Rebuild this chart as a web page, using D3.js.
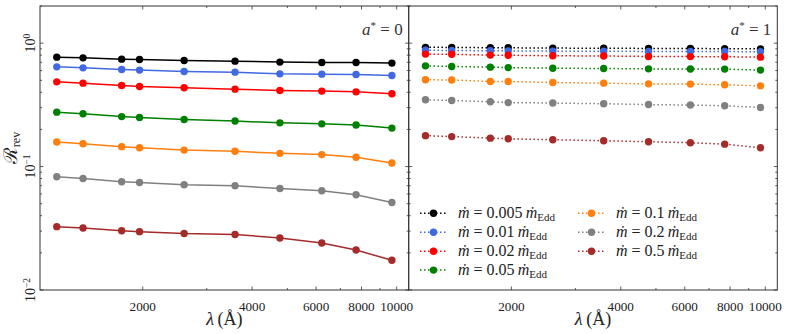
<!DOCTYPE html>
<html><head><meta charset="utf-8">
<script src="https://cdn.jsdelivr.net/npm/d3@7"></script>
<style>
html,body{margin:0;padding:0;background:#fff;}
svg{display:block;}
</style></head>
<body><svg id="c" width="789" height="334"></svg>
<script>
// ---------- data ----------
const lambdas = [1160, 1370, 1750, 1960, 2600, 3590, 4770, 6220, 7730, 9700];
const mdotLabels = ["0.005", "0.01", "0.02", "0.05", "0.1", "0.2", "0.5"];
const colors = ["#000000", "#4169e1", "#ff0000", "#008000", "#ff7f0e", "#808080", "#a52a2a"];

// a* = 0 (solid lines)
const a0_m0005 = [0.770, 0.760, 0.742, 0.737, 0.723, 0.715, 0.702, 0.697, 0.697, 0.689];
const a0_m001  = [0.643, 0.631, 0.611, 0.605, 0.589, 0.582, 0.564, 0.561, 0.557, 0.547];
const a0_m002  = [0.486, 0.474, 0.454, 0.445, 0.435, 0.424, 0.413, 0.409, 0.403, 0.389];
const a0_m005  = [0.276, 0.268, 0.254, 0.250, 0.241, 0.234, 0.226, 0.222, 0.217, 0.205];
const a0_m01   = [0.158, 0.153, 0.145, 0.142, 0.136, 0.133, 0.128, 0.125, 0.119, 0.107];
const a0_m02   = [0.0827, 0.0801, 0.0753, 0.0743, 0.0712, 0.0699, 0.0665, 0.0637, 0.0591, 0.0512];
const a0_m05   = [0.0326, 0.0318, 0.0302, 0.0297, 0.0287, 0.0282, 0.0264, 0.0240, 0.0211, 0.0174];

// a* = 1 (dotted lines)
const a1_m0005 = [0.925, 0.924, 0.918, 0.917, 0.912, 0.910, 0.906, 0.904, 0.902, 0.899];
const a1_m001  = [0.875, 0.873, 0.867, 0.866, 0.862, 0.860, 0.857, 0.856, 0.855, 0.852];
const a1_m002  = [0.815, 0.812, 0.800, 0.798, 0.790, 0.787, 0.780, 0.778, 0.776, 0.770];
const a1_m005  = [0.655, 0.647, 0.639, 0.634, 0.627, 0.623, 0.619, 0.617, 0.616, 0.605];
const a1_m01   = [0.505, 0.503, 0.489, 0.489, 0.480, 0.474, 0.468, 0.466, 0.460, 0.451];
const a1_m02   = [0.348, 0.343, 0.335, 0.330, 0.327, 0.323, 0.318, 0.315, 0.311, 0.301];
const a1_m05   = [0.178, 0.175, 0.170, 0.168, 0.165, 0.162, 0.159, 0.156, 0.152, 0.142];

const xMajorTicks = [2000, 4000, 6000, 8000, 10000];
const xMinorTicks = [3000, 5000, 7000, 9000];
const yMajorTicks = [0.01, 0.1, 1];
const yMajorExp = ["\u22122", "\u22121", "0"];

const panelsData = [
  {label: "0", dash: null, series: [a0_m0005, a0_m001, a0_m002, a0_m005, a0_m01, a0_m02, a0_m05]},
  {label: "1", dash: "1.5,2.5", series: [a1_m0005, a1_m001, a1_m002, a1_m005, a1_m01, a1_m02, a1_m05]}
];

// ---------- layout ----------
const FONT = "'Liberation Serif'";
const svg = d3.select("#c");
const yTop = 6, yBot = 290;
const panelX = [[40, 408.7], [408.7, 777.3]];
const y = d3.scaleLog().domain([0.01, 2.0]).range([yBot, yTop]);
const axisCol = "#333";
const yMinorTicks = [];
[0.01, 0.1, 1].forEach(d => { for (let k = 2; k <= 9; k++) { const v = d * k; if (v <= 2.0) yMinorTicks.push(v); } });

function txt(sel) { return sel.append("text").style("font-family", FONT).attr("fill", "#222"); }

panelsData.forEach((p, pi) => {
  const [x0, x1] = panelX[pi];
  const x = d3.scaleLog().domain([1043, 10790]).range([x0, x1]);
  const g = svg.append("g");

  // data
  const line = d3.line().x((d, i) => x(lambdas[i])).y(d => y(d));
  p.series.forEach((vals, si) => {
    const sg = g.append("g");
    sg.append("path").attr("d", line(vals)).attr("fill", "none")
      .attr("stroke", colors[si]).attr("stroke-width", 1.5)
      .attr("stroke-dasharray", p.dash);
    sg.selectAll("circle").data(vals).join("circle")
      .attr("cx", (d, i) => x(lambdas[i])).attr("cy", d => y(d)).attr("r", 3.7)
      .attr("fill", colors[si]);
  });

  // ticks (inward, all sides)
  const tk = g.append("g").attr("stroke", axisCol).attr("stroke-width", 0.8);
  xMajorTicks.forEach(t => {
    tk.append("line").attr("x1", x(t)).attr("x2", x(t)).attr("y1", yBot).attr("y2", yBot - 3.5);
    tk.append("line").attr("x1", x(t)).attr("x2", x(t)).attr("y1", yTop).attr("y2", yTop + 3.5);
  });
  xMinorTicks.forEach(t => {
    tk.append("line").attr("x1", x(t)).attr("x2", x(t)).attr("y1", yBot).attr("y2", yBot - 2);
    tk.append("line").attr("x1", x(t)).attr("x2", x(t)).attr("y1", yTop).attr("y2", yTop + 2);
  });
  yMajorTicks.forEach(t => {
    tk.append("line").attr("x1", x0).attr("x2", x0 + 3.5).attr("y1", y(t)).attr("y2", y(t));
    tk.append("line").attr("x1", x1).attr("x2", x1 - 3.5).attr("y1", y(t)).attr("y2", y(t));
  });
  yMinorTicks.forEach(t => {
    tk.append("line").attr("x1", x0).attr("x2", x0 + 2).attr("y1", y(t)).attr("y2", y(t));
    tk.append("line").attr("x1", x1).attr("x2", x1 - 2).attr("y1", y(t)).attr("y2", y(t));
  });

  // frame
  g.append("rect").attr("x", x0).attr("y", yTop).attr("width", x1 - x0).attr("height", yBot - yTop)
    .attr("fill", "none").attr("stroke", axisCol).attr("stroke-width", 1);

  // x tick labels
  xMajorTicks.forEach(t => {
    txt(g).attr("x", x(t)).attr("y", 310.5).attr("text-anchor", "middle")
      .attr("font-size", 13.2).text(t);
  });

  // x label
  const xl = txt(g).attr("x", (x0 + x1) / 2).attr("y", 324.5).attr("text-anchor", "middle")
    .attr("font-size", 18);
  xl.append("tspan").attr("font-style", "italic").text("\u03bb");
  xl.append("tspan").text("\u2009(\u00c5)");

  // annotation
  const an = txt(g).attr("x", x1 - 6).attr("y", 35).attr("text-anchor", "end")
    .attr("font-size", 17).attr("fill", "#333");
  an.append("tspan").attr("font-style", "italic").text("a");
  an.append("tspan").attr("font-size", 11).attr("dy", -6).text("*");
  an.append("tspan").attr("dy", 6).text(" = " + p.label);

  // y tick labels only on left panel
  if (pi === 0) {
    yMajorTicks.forEach((t, i) => {
      const tl = txt(g).attr("transform", `translate(35,${y(t)}) rotate(-90)`)
        .attr("text-anchor", "middle").attr("font-size", 14);
      tl.append("tspan").text("10");
      tl.append("tspan").attr("font-size", 9.5).attr("dy", -5).text(yMajorExp[i]);
    });
    const yl = txt(g).attr("transform", `translate(17,${(yTop + yBot) / 2}) rotate(-90)`)
      .attr("text-anchor", "middle").attr("font-size", 19);
    yl.append("tspan").text("\u211b");
    yl.append("tspan").attr("font-size", 12).attr("dy", 3).text("rev");
  }

  // legend in right panel
  if (pi === 1) {
    const lg = g.append("g");
    const colX = [420, 578];
    const rowY = [213.3, 232.3, 251.2, 270.1];
    mdotLabels.forEach((lab, i) => {
      const c = i < 4 ? 0 : 1, r = i < 4 ? i : i - 4;
      const lx = colX[c], ly = rowY[r];
      lg.append("line").attr("x1", lx).attr("x2", lx + 27).attr("y1", ly).attr("y2", ly)
        .attr("stroke", colors[i]).attr("stroke-width", 1.5).attr("stroke-dasharray", "1.5,2.5");
      lg.append("circle").attr("cx", lx + 13.5).attr("cy", ly).attr("r", 3.7).attr("fill", colors[i]);
      const t = txt(lg).attr("x", lx + 38).attr("y", ly + 5).attr("font-size", 16);
      t.append("tspan").attr("font-style", "italic").text("\u1e41");
      t.append("tspan").text(" = " + lab + "\u2009");
      t.append("tspan").attr("font-style", "italic").text("\u1e41");
      t.append("tspan").attr("font-size", 11).attr("dy", 3).text("Edd");
    });
  }
});
</script></body></html>
